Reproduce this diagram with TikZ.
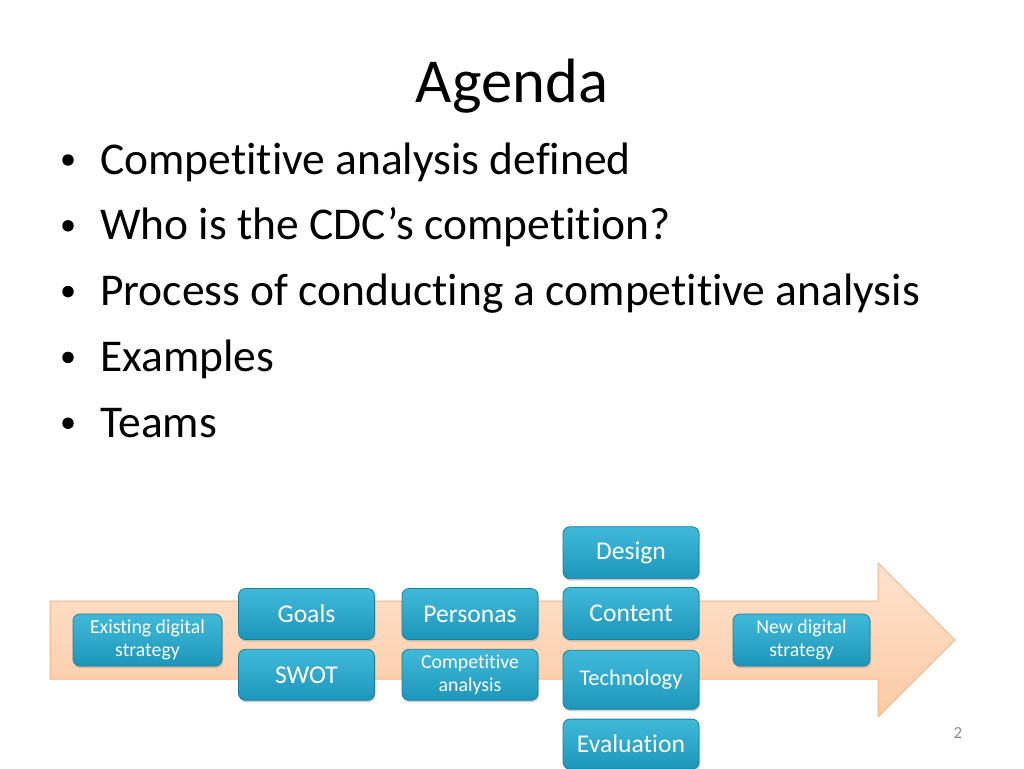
\documentclass[tikz,border=0pt]{standalone}
\usepackage{fontspec}
\setmainfont{Carlito}[Ligatures={NoCommon}]
\usetikzlibrary{positioning,shadows}
\definecolor{boxtop}{HTML}{40B9D9}
\definecolor{boxbot}{HTML}{1E96BA}
\definecolor{boxline}{HTML}{1B7F9D}
\definecolor{arrtop}{HTML}{FDE2CE}
\definecolor{arrbot}{HTML}{FBCAA4}
\definecolor{arrline}{HTML}{F5B487}
\definecolor{pagenum}{HTML}{8C8C8C}

\begin{document}
\begin{tikzpicture}[x=1pt,y=-1pt, node distance=9pt,
    box/.style={draw=boxline, line width=0.8pt, rounded corners=7pt,
        top color=boxtop, bottom color=boxbot, text=white, align=center,
        inner sep=2pt, minimum width=136pt, minimum height=52pt,
        drop shadow={opacity=0.35, shadow xshift=1pt, shadow yshift=-2pt}},
    big/.style={box, font=\fontsize{25.6}{28}\selectfont},
    small/.style={box, font=\fontsize{19.8}{23.5}\selectfont},
    item/.style={anchor=base west, inner sep=0pt, font=\fontsize{45.5}{50}\selectfont},
    dot/.style={circle, fill=black, inner sep=0pt, minimum size=11.5pt}]
    \useasboundingbox[fill=white] (0,0) rectangle (1024,768);
    % title and bullet list
    \node[anchor=base, inner sep=0pt, font=\fontsize{62.6}{70}\selectfont] (title) at (512,102) {Agenda};
    \foreach \txt [count=\i] in {Competitive analysis defined, Who is the CDC’s competition?,
        Process of conducting a competitive analysis, Examples, Teams}
    {
        \node[item] (item\i) at (100,{174+65.8*(\i-1)}) {\txt};
        \node[dot] (dot\i) at (68,{160+65.8*(\i-1)}) {};
    }
    % big arrow
    \draw[arrline, line width=1pt, top color=arrtop, bottom color=arrbot]
        (50,601) -- (878,601) -- (878,563) -- (955,640) -- (878,717) -- (878,679) -- (50,679) -- cycle;
    % steps
    \node[small, minimum width=149pt] (exist) at (147.5,640) {Existing digital\\strategy};
    \node[big, minimum height=51pt] (goals) at (306.5,614) {Goals};
    \node[big, minimum height=51pt, below=of goals] (swot) {SWOT};
    \node[big, minimum height=51pt] (personas) at (470,614) {Personas};
    \node[small, minimum height=51pt, below=of personas] (compan) {Competitive\\analysis};
    \node[big] (content) at (631,613.5) {Content};
    \node[big, above=8pt of content] (design) {Design};
    \node[big, font=\fontsize{22.5}{26}\selectfont, minimum height=59pt, below=10pt of content] (tech) {Technology};
    \node[big, minimum height=50pt, below=of tech] (eval) {Evaluation};
    \node[small, minimum width=137pt] (newstr) at (801.5,640) {New digital\\strategy};
    % page number
    \node[text=pagenum, font=\fontsize{17}{20}\selectfont] (page) at (958,733) {2};
\end{tikzpicture}
\end{document}
